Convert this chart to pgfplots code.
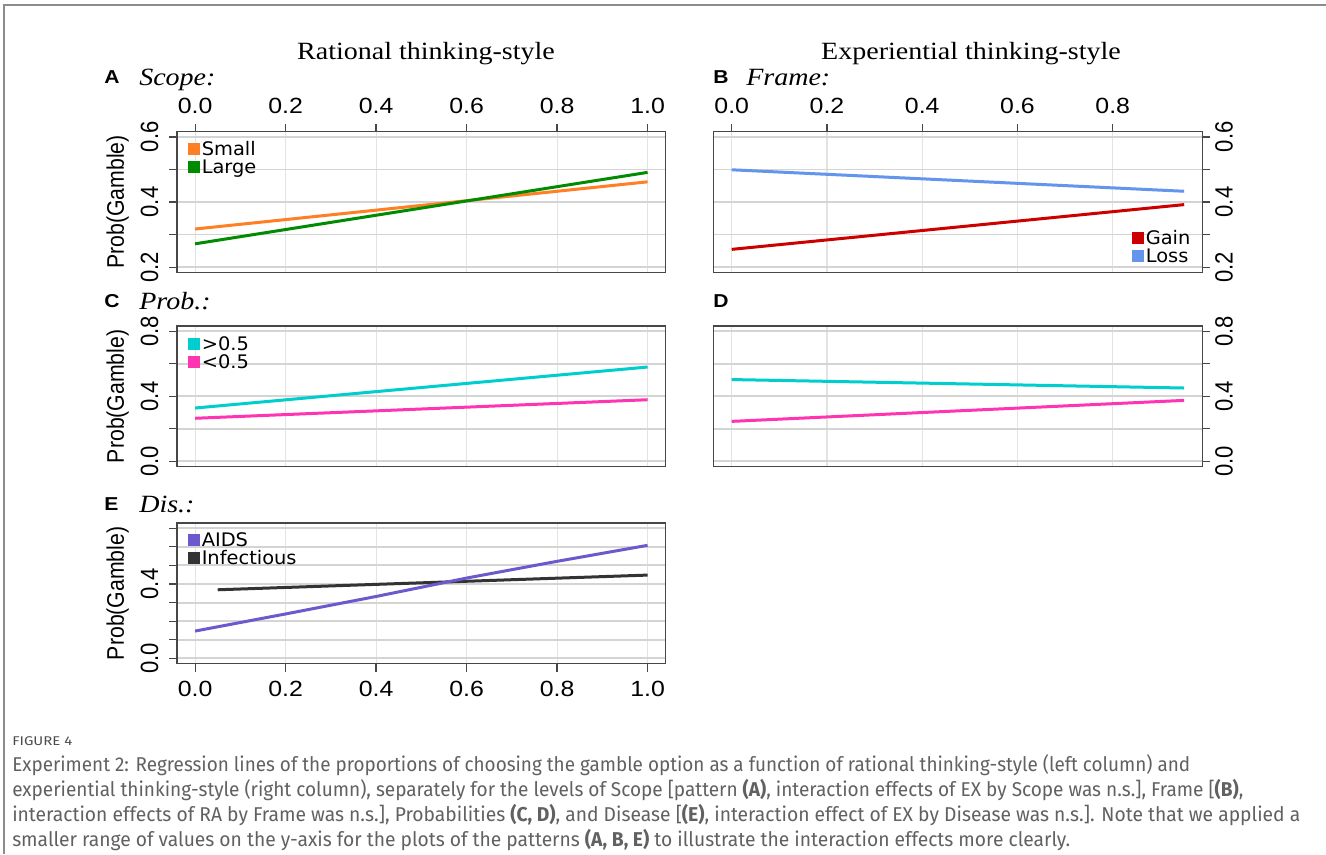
\documentclass[border=0pt]{standalone}
\usepackage{graphicx}
\usepackage{pgfplots}
\pgfplotsset{compat=1.18}
\usepackage{fontspec}
\setmainfont{Liberation Sans}
\newfontfamily\hsans[FakeStretch=1.13]{Liberation Sans}
\newfontfamily\vsans[FakeStretch=0.885]{Liberation Sans}
\newfontfamily\legfont[FakeStretch=1.04]{DejaVu Sans}
\newfontfamily\hserif[FakeStretch=1.13]{Liberation Serif}
\newfontfamily\capfont{Fira Sans}

\definecolor{cSmall}{RGB}{255,127,36}
\definecolor{cLarge}{RGB}{0,139,0}
\definecolor{cGain}{RGB}{205,0,0}
\definecolor{cLoss}{RGB}{100,149,237}
\definecolor{cHigh}{RGB}{0,205,205}
\definecolor{cLow}{RGB}{255,52,179}
\definecolor{cAids}{RGB}{106,90,205}
\definecolor{cInf}{RGB}{51,51,51}

\pgfplotsset{
  panel/.style={
    scale only axis, width=366.5pt, height=105.45pt, anchor=north west,
    axis line style={draw=black!72, line width=1.1pt},
    tick align=outside, major tick length=6pt,
    tick style={draw=black!72, line width=0.9pt},
    xmajorgrids, ymajorgrids,
    major grid style={draw=black!14, line width=0.9pt},
    every axis y grid/.style={draw=black!17, line width=1.4pt},
    every axis x grid/.style={draw=black!11, line width=0.8pt},
    xticklabel style={font=\hsans\fontsize{16.5}{17}\selectfont, inner sep=0pt},
    yticklabel style={font=\vsans\fontsize{18.7}{19}\selectfont, inner sep=0pt},
    every axis y label/.style={at={(axis description cs:-0.1085,0.5)}, rotate=90,
      anchor=base, font=\vsans\fontsize{18}{18}\selectfont, inner sep=0pt},
  },
  leftx/.style={xmin=-0.04, xmax=1.04, xtick={0,0.2,0.4,0.6,0.8,1},
    xticklabels={0.0,0.2,0.4,0.6,0.8,1.0}},
  rightx/.style={xmin=-0.038, xmax=0.988, xtick={0,0.2,0.4,0.6,0.8},
    xticklabels={0.0,0.2,0.4,0.6,0.8}},
  toplabels/.style={xtick pos=right, xticklabel pos=right,
    xticklabel style={anchor=base, yshift=8pt}},
  botlabels/.style={xtick pos=left, xticklabel pos=left,
    xticklabel style={anchor=north, yshift=-7pt}},
  noxticks/.style={xmajorticks=false, xticklabels={}},
  lefty/.style={ytick pos=left, yticklabel pos=left,
    yticklabel style={xshift=-8.25pt, rotate=90, anchor=base},
    ylabel={Prob(Gamble)}},
  righty/.style={ytick pos=right, yticklabel pos=right,
    yticklabel style={xshift=3.5pt, rotate=90, anchor=north}},
  narrowy/.style={ymin=0.184, ymax=0.616, ytick={0.2,0.3,0.4,0.5,0.6},
    yticklabels={0.2,,0.4,,0.6}},
  widey/.style={ymin=-0.032, ymax=0.832, ytick={0,0.2,0.4,0.6,0.8},
    yticklabels={0.0,,0.4,,0.8}},
  series/.style={no marks, line width=2.25pt, line cap=butt},
}

\tikzset{
  key/.style={inner sep=0pt, anchor=base west, font=\legfont\fontsize{14}{14}\selectfont},
  panellabel/.style={inner sep=0pt, anchor=base west, font=\hsans\bfseries\fontsize{14}{14}\selectfont},
  factor/.style={inner sep=0pt, anchor=base west, font=\hserif\itshape\fontsize{18.6}{19}\selectfont},
  coltitle/.style={inner sep=0pt, anchor=base, font=\hserif\fontsize{18.6}{19}\selectfont},
  capline/.style={inner sep=0pt, anchor=base west, text=black!62, font=\capfont\fontsize{15}{16}\selectfont},
}

\begin{document}
\begin{tikzpicture}
\fill[white] (0,0) rectangle (994.5pt,-640.5pt);
\useasboundingbox (0,0) rectangle (994.5pt,-640.5pt);
\draw[black!45, line width=1.5pt] (3pt,-640.5pt) -- (3pt,-3.9pt) -- (994.5pt,-3.9pt);

% column titles and panel headers
\node[coltitle] at (319.5pt,-44.25pt) {Rational thinking-style};
\node[coltitle] at (728.25pt,-44.25pt) {Experiential thinking-style};
\node[panellabel] at (78pt,-62.25pt) {A};
\node[factor] at (104.25pt,-63.75pt) {Scope:};
\node[panellabel] at (534.75pt,-62.25pt) {B};
\node[factor] at (559.5pt,-63.75pt) {Frame:};
\node[panellabel] at (78pt,-230.25pt) {C};
\node[factor] at (104.25pt,-231.75pt) {Prob.:};
\node[panellabel] at (534.75pt,-230.25pt) {D};
\node[panellabel] at (78pt,-382.5pt) {E};
\node[factor] at (104.25pt,-384pt) {Dis.:};

% A: Scope, rational thinking-style
\begin{axis}[panel, leftx, toplabels, lefty, narrowy, at={(132.75pt,-98.775pt)}]
\addplot[series, cSmall] coordinates {(0,0.317) (1,0.462)};
\addplot[series, cLarge] coordinates {(0,0.2715) (1,0.491)};
\end{axis}

% B: Frame, experiential thinking-style
\begin{axis}[panel, rightx, toplabels, righty, narrowy, at={(535.2pt,-98.775pt)}]
\addplot[series, cGain] coordinates {(0,0.2545) (0.95,0.392)};
\addplot[series, cLoss] coordinates {(0,0.499) (0.95,0.433)};
\end{axis}

% C: Probabilities, rational thinking-style
\begin{axis}[panel, leftx, noxticks, lefty, widey, at={(132.75pt,-244.5pt)}]
\addplot[series, cHigh] coordinates {(0,0.328) (1,0.580)};
\addplot[series, cLow] coordinates {(0,0.265) (1,0.379)};
\end{axis}

% D: Probabilities, experiential thinking-style
\begin{axis}[panel, rightx, noxticks, righty, widey, at={(535.2pt,-244.5pt)}]
\addplot[series, cHigh] coordinates {(0,0.503) (0.95,0.451)};
\addplot[series, cLow] coordinates {(0,0.246) (0.95,0.375)};
\end{axis}

% E: Disease, rational thinking-style
\begin{axis}[panel, leftx, botlabels, lefty, at={(132.75pt,-392.25pt)},
  ymin=-0.028, ymax=0.728, ytick={0,0.1,0.2,0.3,0.4,0.5,0.6,0.7},
  yticklabels={0.0,,,,0.4,,,}]
\addplot[series, cInf] coordinates {(0.05,0.369) (1,0.448)};
\addplot[series, cAids] coordinates {(0,0.147) (0.2,0.239) (0.4,0.333) (0.6,0.432) (0.8,0.522) (1,0.608)};
\end{axis}

% legend keys
\fill[cSmall] (141pt,-107.25pt) rectangle ++(9pt,-9pt);
\node[key] at (151.125pt,-116.625pt) {Small};
\fill[cLarge] (141pt,-121.05pt) rectangle ++(9pt,-9pt);
\node[key] at (151.125pt,-130.425pt) {Large};
\fill[cGain] (849pt,-174pt) rectangle ++(9pt,-9pt);
\node[key] at (859.125pt,-183.375pt) {Gain};
\fill[cLoss] (849pt,-187.8pt) rectangle ++(9pt,-9pt);
\node[key] at (859.125pt,-197.175pt) {Loss};
\fill[cHigh] (141pt,-253.275pt) rectangle ++(9pt,-9pt);
\node[key] at (151.125pt,-262.65pt) {>0.5};
\fill[cLow] (141pt,-267.075pt) rectangle ++(9pt,-9pt);
\node[key] at (151.125pt,-276.45pt) {<0.5};
\fill[cAids] (141pt,-400.5pt) rectangle ++(9pt,-9pt);
\node[key] at (151.125pt,-409.875pt) {AIDS};
\fill[cInf] (141pt,-414.3pt) rectangle ++(9pt,-9pt);
\node[key] at (151.125pt,-423.675pt) {Infectious};

% caption
\node[capline, text=black!70, font=\capfont\fontsize{9.5}{10}\selectfont] at (9pt,-558.75pt) {\resizebox{45pt}{\height}{FIGURE 4}};
\node[capline] at (9pt,-578.25pt) {\resizebox{883.5pt}{\height}{Experiment 2: Regression lines of the proportions of choosing the gamble option as a function of rational thinking-style (left column) and}};
\node[capline] at (9pt,-597pt) {\resizebox{923.25pt}{\height}{experiential thinking-style (right column), separately for the levels of Scope [pattern \textbf{(A)}, interaction effects of EX by Scope was n.s.], Frame [\textbf{(B)},}};
\node[capline] at (9pt,-615.75pt) {\resizebox{966pt}{\height}{interaction effects of RA by Frame was n.s.], Probabilities \textbf{(C, D)}, and Disease [\textbf{(E)}, interaction effect of EX by Disease was n.s.]. Note that we applied a}};
\node[capline] at (9pt,-634.5pt) {\resizebox{793.5pt}{\height}{smaller range of values on the y-axis for the plots of the patterns \textbf{(A, B, E)} to illustrate the interaction effects more clearly.}};
\end{tikzpicture}
\end{document}
